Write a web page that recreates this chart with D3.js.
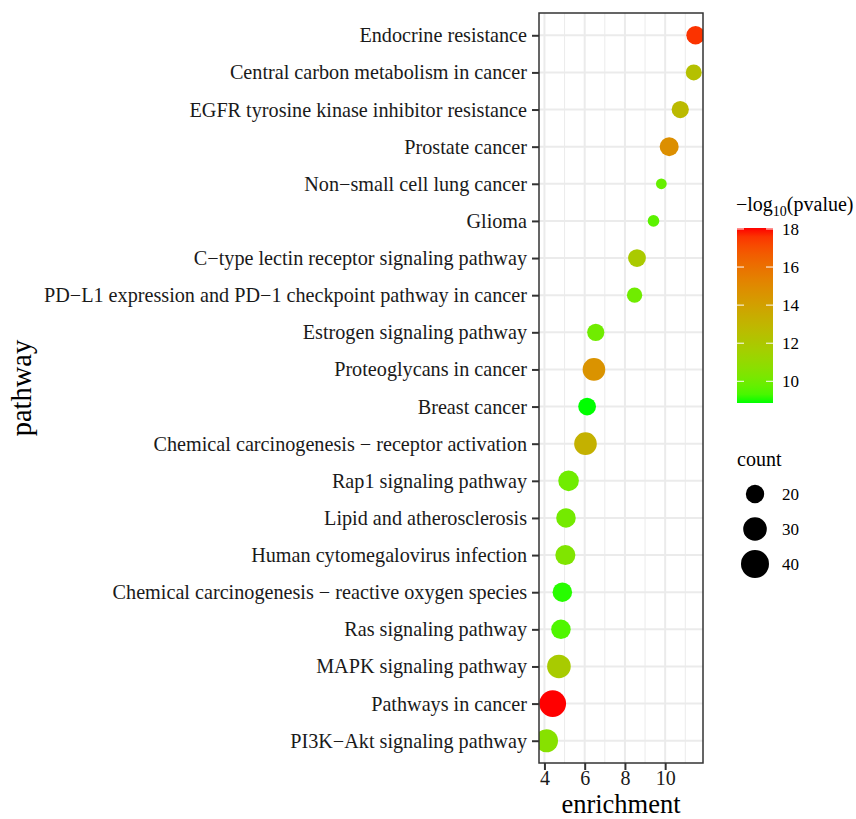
<!DOCTYPE html>
<html>
<head>
<meta charset="utf-8">
<script src="https://cdn.jsdelivr.net/npm/d3@7"></script>
<style>
  body { margin: 0; background: #fff; }
  svg text { font-family: "Liberation Serif", "Times New Roman", serif; }
</style>
</head>
<body>
<svg id="chart" width="856" height="819"></svg>
<script>
// pathways, top to bottom
const pathways = [
  "Endocrine resistance",
  "Central carbon metabolism in cancer",
  "EGFR tyrosine kinase inhibitor resistance",
  "Prostate cancer",
  "Non\u2212small cell lung cancer",
  "Glioma",
  "C\u2212type lectin receptor signaling pathway",
  "PD\u2212L1 expression and PD\u22121 checkpoint pathway in cancer",
  "Estrogen signaling pathway",
  "Proteoglycans in cancer",
  "Breast cancer",
  "Chemical carcinogenesis \u2212 receptor activation",
  "Rap1 signaling pathway",
  "Lipid and atherosclerosis",
  "Human cytomegalovirus infection",
  "Chemical carcinogenesis \u2212 reactive oxygen species",
  "Ras signaling pathway",
  "MAPK signaling pathway",
  "Pathways in cancer",
  "PI3K\u2212Akt signaling pathway"
];
const enrichment = [11.51, 11.42, 10.75, 10.2, 9.81, 9.42, 8.6, 8.48, 6.55, 6.46,
                    6.12, 6.04, 5.2, 5.07, 5.04, 4.89, 4.82, 4.72, 4.41, 4.1];
const counts = [20, 16, 18, 21, 9, 10, 19, 15, 18, 28, 19, 28, 24, 22, 23, 22, 22, 30, 37, 29];
const logp = [17.6, 12.4, 12.7, 14.8, 9.8, 9.6, 11.9, 10.0, 10.0, 14.6,
              8.86, 13.2, 10.0, 10.1, 10.4, 9.0, 9.4, 11.8, 18.05, 10.6];

const xTicks = [4, 6, 8, 10];
const xMinor = [5, 7, 9, 11];
const colorTicks = [10, 12, 14, 16, 18];
const sizeBreaks = [20, 30, 40];

const data = pathways.map((p, i) => ({ pathway: p, x: enrichment[i], count: counts[i], p: logp[i] }));

const svg = d3.select("#chart");
const panel = { left: 539, right: 703, top: 13, bottom: 763 };

// x scale with ggplot-style 5% expansion
const [xmin, xmax] = d3.extent(enrichment);
const pad = (xmax - xmin) * 0.05;
const x = d3.scaleLinear().domain([xmin - pad, xmax + pad]).range([panel.left, panel.right]);
const y = d3.scalePoint().domain(pathways).range([panel.top, panel.bottom]).padding(0.6);
const r = d3.scaleSqrt().domain([20, 40]).range([9.2, 14]);
const color = d3.scaleLinear().domain(d3.extent(logp)).range(["#00ff00", "#ff0000"]).interpolate(d3.interpolateLab);

// grid
const grid = svg.append("g");
grid.selectAll(".minor").data(xMinor).enter().append("line")
  .attr("x1", d => x(d)).attr("x2", d => x(d))
  .attr("y1", panel.top).attr("y2", panel.bottom)
  .attr("stroke", "#ebebeb").attr("stroke-width", 1);
grid.selectAll(".majx").data(xTicks).enter().append("line")
  .attr("x1", d => x(d)).attr("x2", d => x(d))
  .attr("y1", panel.top).attr("y2", panel.bottom)
  .attr("stroke", "#ebebeb").attr("stroke-width", 2);
grid.selectAll(".majy").data(pathways).enter().append("line")
  .attr("x1", panel.left).attr("x2", panel.right)
  .attr("y1", d => y(d)).attr("y2", d => y(d))
  .attr("stroke", "#ebebeb").attr("stroke-width", 2);

// points, clipped to panel
svg.append("clipPath").attr("id", "clip").append("rect")
  .attr("x", panel.left).attr("y", panel.top)
  .attr("width", panel.right - panel.left).attr("height", panel.bottom - panel.top);

svg.append("g").attr("clip-path", "url(#clip)")
  .selectAll("circle").data(data).enter().append("circle")
  .attr("cx", d => x(d.x))
  .attr("cy", d => y(d.pathway))
  .attr("r", d => r(d.count))
  .attr("fill", d => color(d.p));

// border
svg.append("rect")
  .attr("x", panel.left).attr("y", panel.top)
  .attr("width", panel.right - panel.left).attr("height", panel.bottom - panel.top)
  .attr("fill", "none").attr("stroke", "#333").attr("stroke-width", 1.5);

// axes
const yAxis = svg.append("g").attr("transform", `translate(${panel.left},0)`)
  .call(d3.axisLeft(y).tickSize(7).tickPadding(5));
const xAxis = svg.append("g").attr("transform", `translate(0,${panel.bottom})`)
  .call(d3.axisBottom(x).tickValues(xTicks).tickSize(7).tickPadding(1));
[yAxis, xAxis].forEach(a => {
  a.select(".domain").remove();
  a.selectAll(".tick line").attr("stroke", "#333").attr("stroke-width", 2);
  a.selectAll(".tick text").attr("fill", "#1a1a1a").style("font-size", "20.2px")
    .style("font-family", "'Liberation Serif', 'Times New Roman', serif");
});
xAxis.selectAll(".tick text").style("font-size", "20px");

svg.append("text")
  .attr("x", (panel.left + panel.right) / 2).attr("y", 813)
  .attr("text-anchor", "middle").style("font-size", "26.5px").text("enrichment");
svg.append("text")
  .attr("transform", `translate(31,${(panel.top + panel.bottom) / 2}) rotate(-90)`)
  .attr("text-anchor", "middle").style("font-size", "28.5px").text("pathway");

// colour legend
const cb = { x: 737, w: 36, top: 228, bottom: 403 };
const [pmin, pmax] = d3.extent(logp);
const cy = d3.scaleLinear().domain([pmin, pmax]).range([cb.bottom, cb.top]);
const grad = svg.append("defs").append("linearGradient").attr("id", "grad")
  .attr("x1", 0).attr("y1", 1).attr("x2", 0).attr("y2", 0);
d3.range(0, 1.0001, 0.05).forEach(t => {
  grad.append("stop").attr("offset", t).attr("stop-color", color(pmin + t * (pmax - pmin)));
});
svg.append("rect").attr("x", cb.x).attr("y", cb.top)
  .attr("width", cb.w).attr("height", cb.bottom - cb.top).attr("fill", "url(#grad)");
const cbt = svg.append("g");
colorTicks.forEach(v => {
  cbt.append("line").attr("x1", cb.x).attr("x2", cb.x + 7).attr("y1", cy(v)).attr("y2", cy(v))
    .attr("stroke", "#fff").attr("stroke-width", 1);
  cbt.append("line").attr("x1", cb.x + cb.w - 7).attr("x2", cb.x + cb.w).attr("y1", cy(v)).attr("y2", cy(v))
    .attr("stroke", "#fff").attr("stroke-width", 1);
  cbt.append("text").attr("x", 782).attr("y", cy(v)).attr("dy", "0.35em")
    .style("font-size", "17px").text(v);
});
const ct = svg.append("text").attr("x", 736).attr("y", 211).style("font-size", "20px");
ct.append("tspan").text("\u2212log");
ct.append("tspan").attr("dy", 5).style("font-size", "14px").text("10");
ct.append("tspan").attr("dy", -5).text("(pvalue)");

// size legend
svg.append("text").attr("x", 737).attr("y", 466).style("font-size", "20px").text("count");
const sy = d3.scalePoint().domain(sizeBreaks).range([494, 564]);
sizeBreaks.forEach(v => {
  svg.append("circle").attr("cx", 755).attr("cy", sy(v)).attr("r", r(v)).attr("fill", "#000");
  svg.append("text").attr("x", 782).attr("y", sy(v)).attr("dy", "0.35em")
    .style("font-size", "17px").text(v);
});
</script>
</body>
</html>
